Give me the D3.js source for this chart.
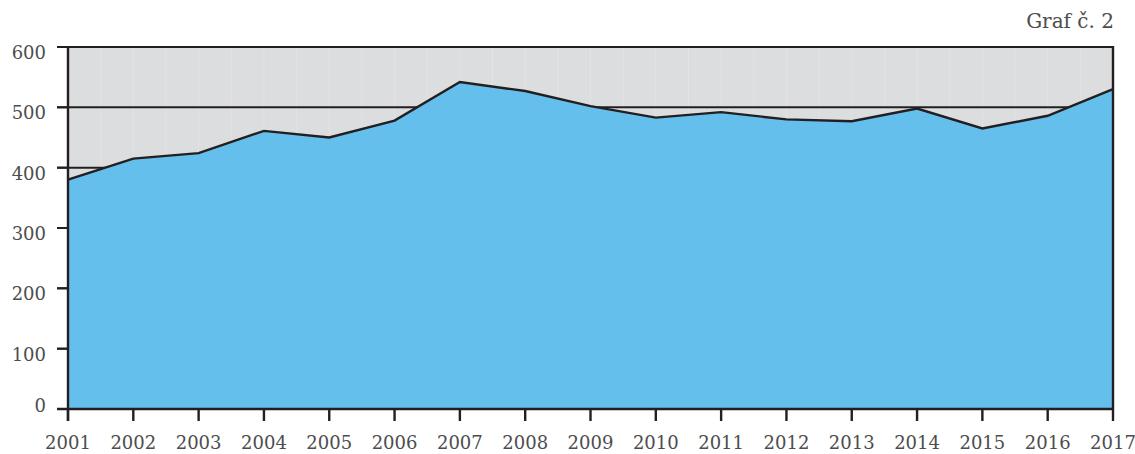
<!DOCTYPE html>
<html>
<head>
<meta charset="utf-8">
<script src="https://cdn.jsdelivr.net/npm/d3@7"></script>
<style>
  body { margin: 0; background: #fff; }
  text { font-family: "DejaVu Serif", serif; fill: #4d4d4d; }
</style>
</head>
<body>
<div id="chart"></div>
<script>
// data
const years = [2001, 2002, 2003, 2004, 2005, 2006, 2007, 2008, 2009, 2010, 2011, 2012, 2013, 2014, 2015, 2016, 2017];
const values = [380, 415, 424, 461, 450, 478, 542, 527, 502, 483, 492, 480, 477, 498, 465, 486, 530];
const yTicks = [0, 100, 200, 300, 400, 500, 600];
const title = "Graf č. 2";

const width = 1135, height = 454;
const margin = { top: 47, right: 22, bottom: 45, left: 68 };

const svg = d3.select("#chart").append("svg").attr("width", width).attr("height", height);

const x = d3.scaleLinear().domain([2001, 2017]).range([margin.left, width - margin.right]);
const y = d3.scaleLinear().domain([0, 600]).range([height - margin.bottom, margin.top]);

const dark = "#231f20";

// gray plot background
svg.append("rect")
    .attr("x", x(2001)).attr("y", y(600))
    .attr("width", x(2017) - x(2001)).attr("height", y(0) - y(600))
    .attr("fill", "#dcdddf");

// faint vertical lines every half year
svg.selectAll("line.vgrid")
    .data(d3.range(2001.5, 2017, 0.5))
    .join("line")
    .attr("class", "vgrid")
    .attr("x1", d => x(d)).attr("x2", d => x(d))
    .attr("y1", y(600)).attr("y2", y(0))
    .attr("stroke", "#fff").attr("stroke-opacity", 0.18).attr("stroke-width", 1);

// horizontal gridlines with ticks sticking out to the left
svg.selectAll("line.hgrid")
    .data(yTicks.filter(d => d > 0))
    .join("line")
    .attr("class", "hgrid")
    .attr("x1", x(2001) - 11).attr("x2", x(2017))
    .attr("y1", d => y(d)).attr("y2", d => y(d))
    .attr("stroke", dark).attr("stroke-width", 2);

const pts = years.map((yr, i) => [yr, values[i]]);

// area
svg.append("path")
    .datum(pts)
    .attr("fill", "#65bfec")
    .attr("d", d3.area().x(d => x(d[0])).y0(y(0)).y1(d => y(d[1])));

// line
svg.append("path")
    .datum(pts)
    .attr("fill", "none")
    .attr("stroke", dark)
    .attr("stroke-width", 2.4)
    .attr("stroke-linejoin", "miter")
    .attr("d", d3.line().x(d => x(d[0])).y(d => y(d[1])));

// frame: left, right, bottom
svg.append("line").attr("x1", x(2001)).attr("x2", x(2001)).attr("y1", y(600) - 1).attr("y2", y(0) + 12)
    .attr("stroke", dark).attr("stroke-width", 2.4);
svg.append("line").attr("x1", x(2017)).attr("x2", x(2017)).attr("y1", y(600) - 1).attr("y2", y(0))
    .attr("stroke", dark).attr("stroke-width", 2.4);
svg.append("line").attr("x1", x(2001) - 11).attr("x2", x(2017) + 1).attr("y1", y(0)).attr("y2", y(0))
    .attr("stroke", dark).attr("stroke-width", 2.4);

// x ticks
svg.selectAll("line.xtick")
    .data(years)
    .join("line")
    .attr("class", "xtick")
    .attr("x1", d => x(d)).attr("x2", d => x(d))
    .attr("y1", y(0)).attr("y2", y(0) + 12)
    .attr("stroke", dark).attr("stroke-width", 2.4);

// y ticks (the ones hidden by the area)
svg.selectAll("line.ytick")
    .data(yTicks)
    .join("line")
    .attr("class", "ytick")
    .attr("x1", x(2001) - 11).attr("x2", x(2001))
    .attr("y1", d => y(d)).attr("y2", d => y(d))
    .attr("stroke", dark).attr("stroke-width", 2);

// x labels
svg.selectAll("text.xlab")
    .data(years)
    .join("text")
    .attr("class", "xlab")
    .attr("x", d => x(d))
    .attr("y", y(0) + 40)
    .attr("text-anchor", "middle")
    .attr("font-size", 18)
    .text(d => d);

// y labels
svg.selectAll("text.ylab")
    .data(yTicks)
    .join("text")
    .attr("class", "ylab")
    .attr("x", 46)
    .attr("y", d => d === 0 ? y(d) + 3 : y(d) + 12)
    .attr("text-anchor", "end")
    .attr("font-size", 18)
    .text(d => d);

// title
svg.append("text")
    .attr("x", 1114).attr("y", 28)
    .attr("text-anchor", "end")
    .attr("font-size", 20)
    .text(title);
</script>
</body>
</html>
